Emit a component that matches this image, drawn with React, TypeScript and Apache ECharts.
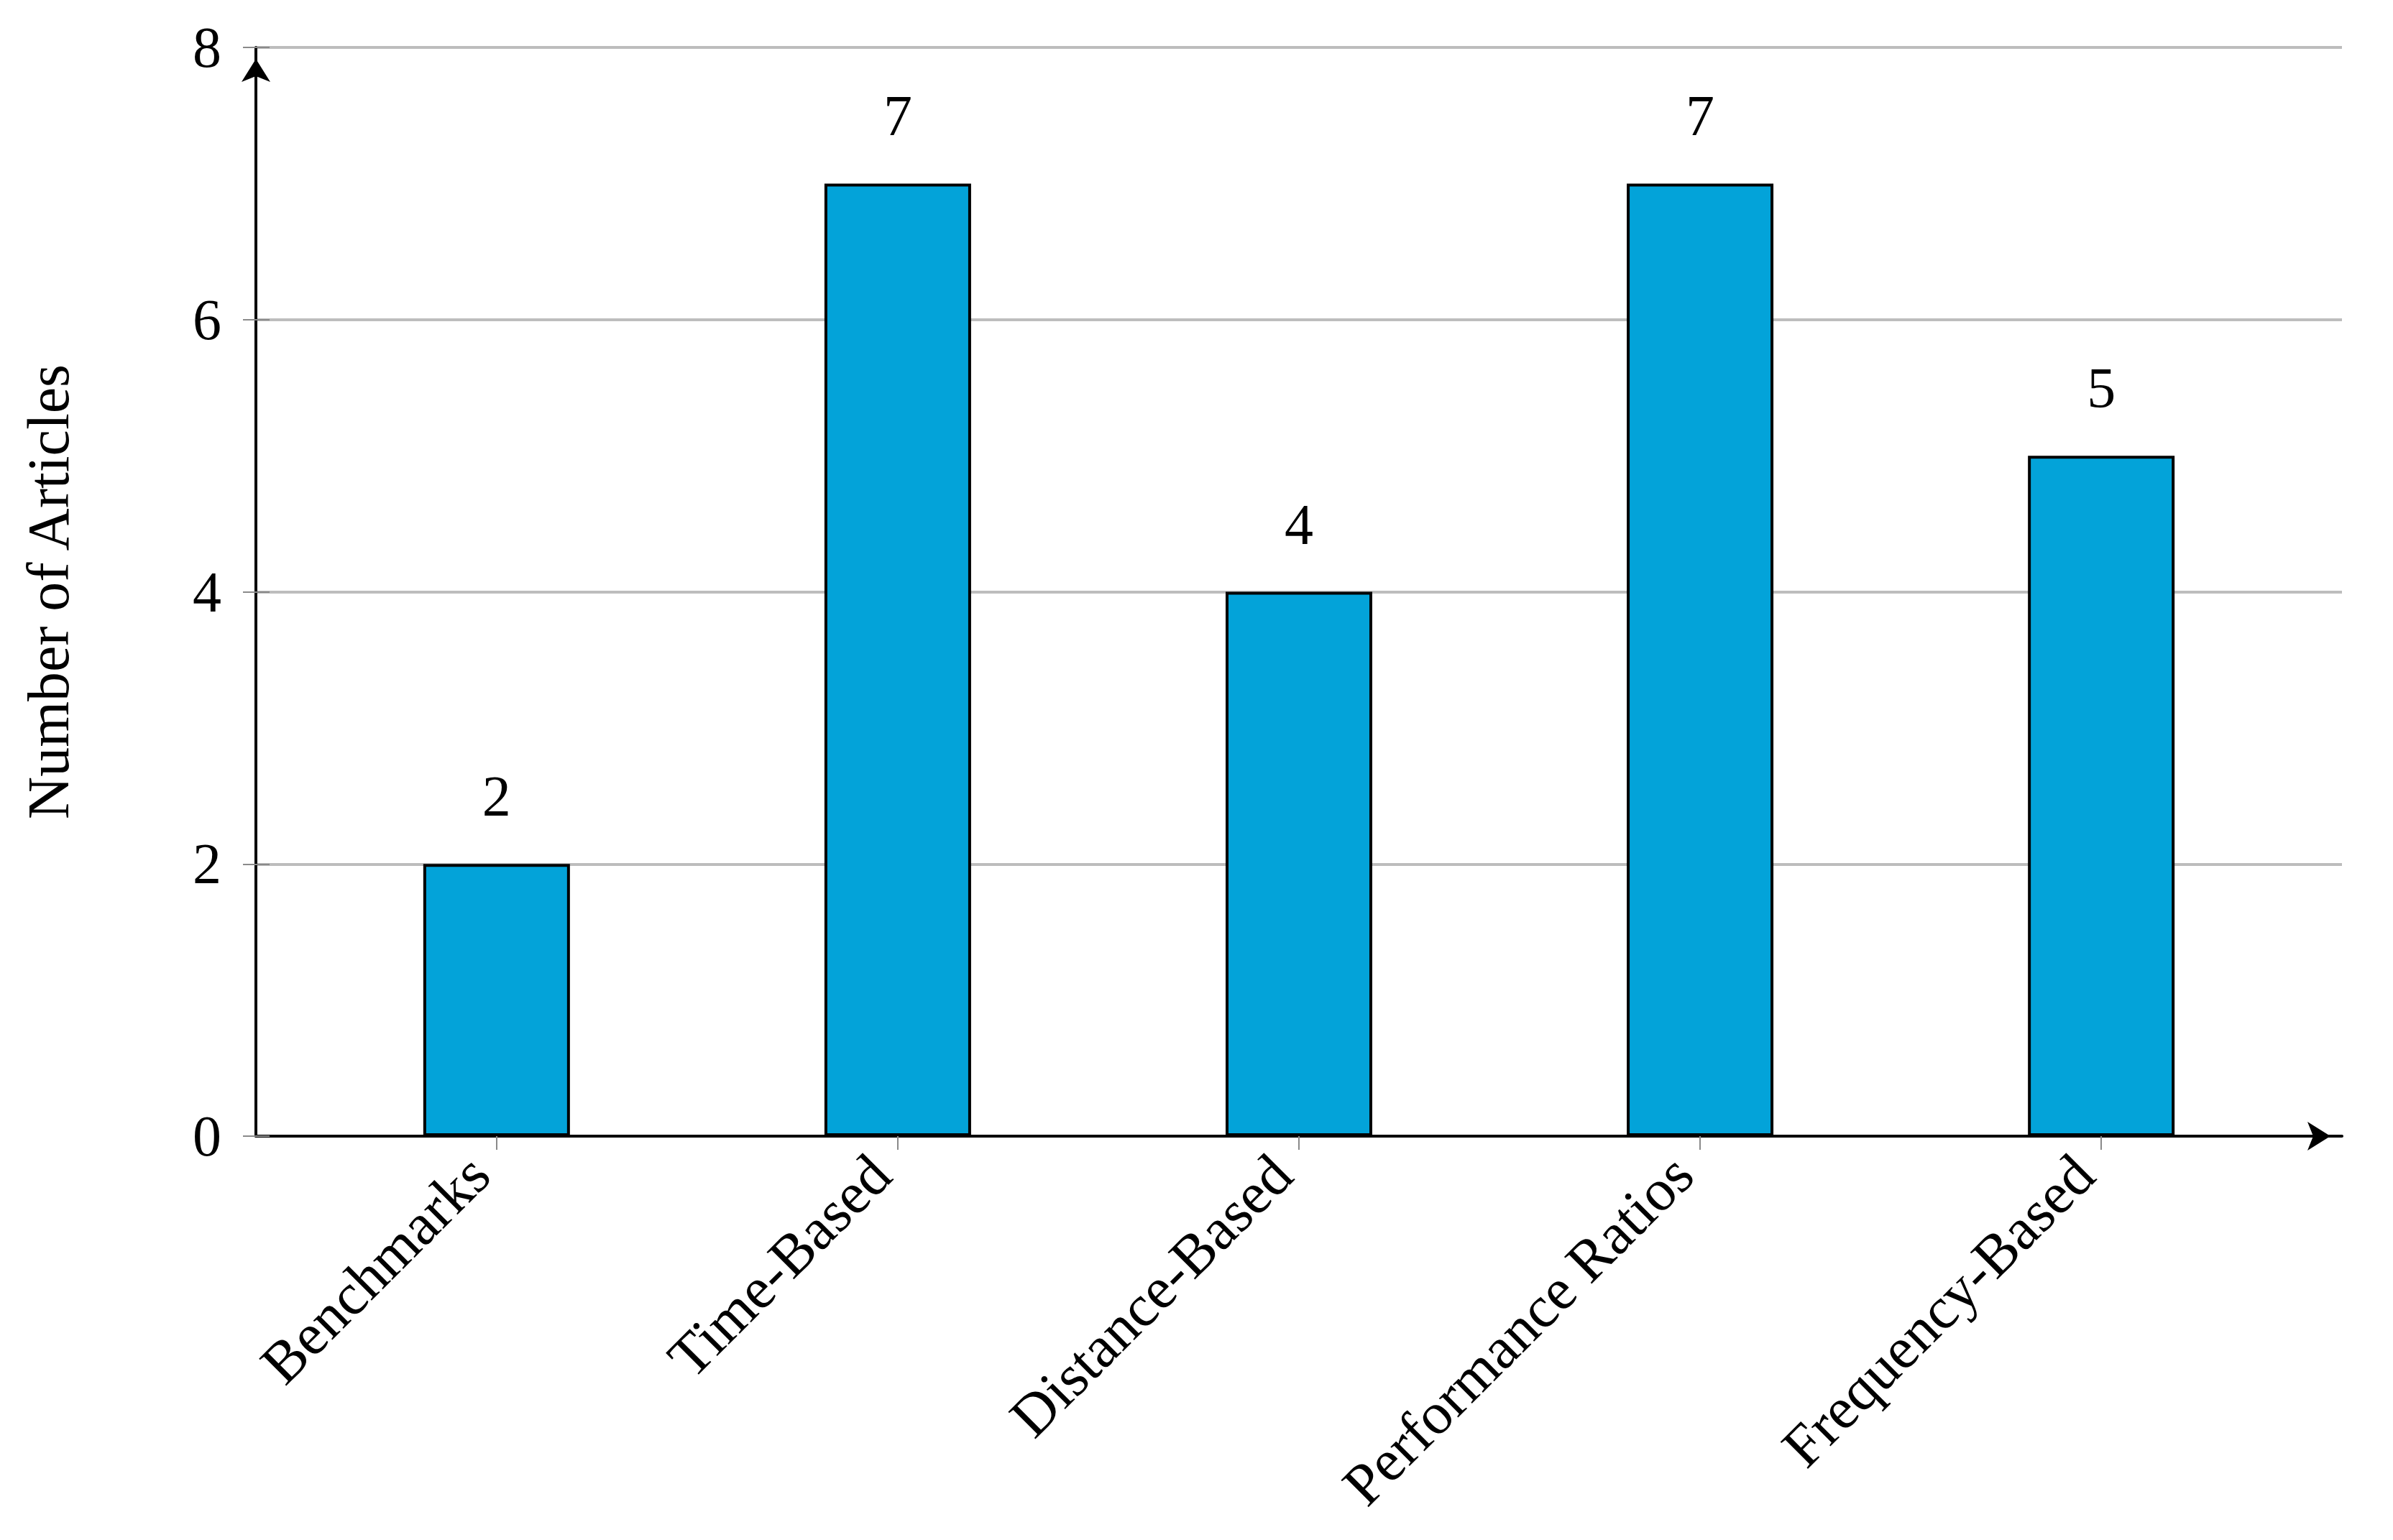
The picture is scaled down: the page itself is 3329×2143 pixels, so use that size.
import React, { useEffect, useRef } from "react";
import * as echarts from "echarts";

const categories = ["Benchmarks", "Time-Based", "Distance-Based", "Performance Ratios", "Frequency-Based"];
const articleCounts = [2, 7, 4, 7, 5];
const yTicks = [0, 2, 4, 6, 8];

const FONT = "'Liberation Serif', 'Times New Roman', serif";
const FS = 80;
const FS_TEXT = 82;

export default function App() {
  const ref = useRef<HTMLDivElement>(null);
  useEffect(() => {
    if (!ref.current) return;
    const chart = echarts.init(ref.current, null, { renderer: "svg" });
    const idx = categories.map((_, i) => i);
    const yMin = yTicks[0];
    const yMax = yTicks[yTicks.length - 1];
    const yStep = yTicks[1] - yTicks[0];
    chart.setOption({
      animation: false,
      backgroundColor: "#ffffff",
      grid: { left: 356, top: 66, right: 71, bottom: 562 },
      xAxis: {
        type: "value",
        min: -0.6,
        max: categories.length - 1 + 0.6,
        splitLine: { show: false },
        axisLine: {
          show: true,
          onZero: false,
          symbol: ["none", "arrow"],
          symbolSize: [30, 32],
          symbolOffset: [0, -16],
          lineStyle: { color: "#000", width: 4 },
        },
        axisTick: {
          show: true,
          customValues: idx,
          length: 19,
          lineStyle: { color: "#8a8a8a", width: 2 },
        },
        axisLabel: {
          customValues: idx,
          rotate: 45,
          margin: 16,
          padding: [0, 34, 0, 0],
          fontFamily: FONT,
          fontSize: FS_TEXT,
          color: "#000",
          formatter: (v: number) => {
            const r = Math.round(v);
            return Math.abs(v - r) < 1e-6 && categories[r] ? categories[r] : "";
          },
        },
      },
      yAxis: [
        {
          type: "value",
          min: yMin,
          max: yMax,
          interval: yStep,
          position: "left",
          name: "Number of Articles",
          nameLocation: "middle",
          nameRotate: 90,
          nameGap: 248,
          nameTextStyle: { fontFamily: FONT, fontSize: FS_TEXT, color: "#000" },
          axisLine: {
            show: true,
            onZero: false,
            symbol: ["none", "arrow"],
            symbolSize: [30, 32],
            symbolOffset: [0, -16],
            lineStyle: { color: "#000", width: 4 },
          },
          axisTick: { show: true, length: 18, lineStyle: { color: "#8a8a8a", width: 2 } },
          axisLabel: { margin: 48, fontFamily: FONT, fontSize: FS, color: "#000" },
          splitLine: { show: true, lineStyle: { color: "#bdbdbd", width: 4 } },
        },
        {
          type: "value",
          min: yMin,
          max: yMax,
          interval: yStep,
          position: "left",
          axisLine: { show: false, onZero: false },
          axisLabel: { show: false },
          splitLine: { show: false },
          axisTick: { show: true, inside: true, length: 19, lineStyle: { color: "#8a8a8a", width: 2 } },
        },
      ],
      series: [
        {
          type: "bar",
          xAxisIndex: 0,
          yAxisIndex: 0,
          barWidth: 204,
          data: articleCounts.map((v, i) => [i, v]),
          itemStyle: { color: "#03A3D9", borderColor: "#000", borderWidth: 4 },
          label: {
            show: true,
            position: "top",
            distance: 54,
            fontFamily: FONT,
            fontSize: FS,
            color: "#000",
            formatter: (p: any) => String(p.value[1]),
          },
        },
      ],
    });
    return () => chart.dispose();
  }, []);
  return (
    <div
      ref={ref}
      style={{ position: "fixed", left: 0, top: 0, width: 3329, height: 2143, background: "#fff" }}
    />
  );
}
